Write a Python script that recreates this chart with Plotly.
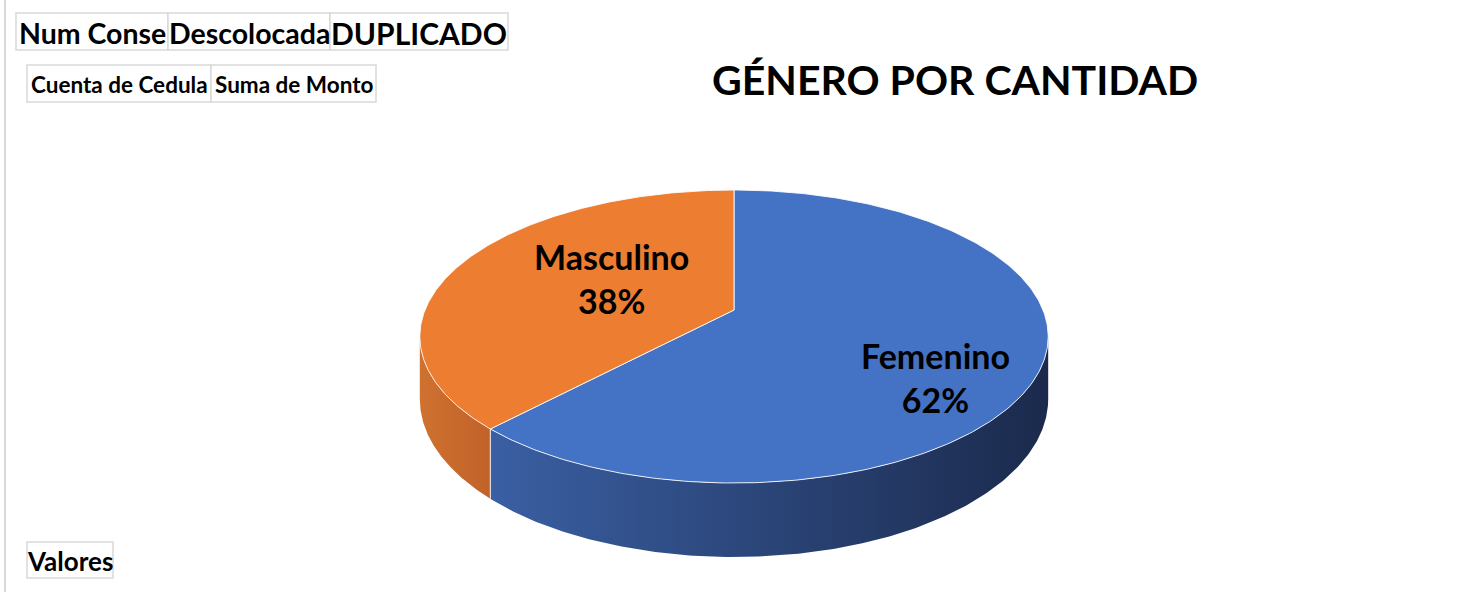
import numpy as np
import plotly.graph_objects as go

# ---------------- data ----------------
categories = ["Femenino", "Masculino"]
values = [62, 38]
title_text = "GÉNERO POR CANTIDAD"
filter_buttons = ["Num Conse", "Descolocada", "DUPLICADO"]
value_buttons = ["Cuenta de Cedula", "Suma de Monto"]
axis_button = "Valores"

# ---------------- style ----------------
top_colors = ["#4472C4", "#ED7D31"]
side_grad = [["#3A5FA3", "#1B2A4C"], ["#CF712F", "#C1622A"]]
FONT = "Lato"
W, H = 1457, 592

# projection of the tilted disc (pixel-like axis units)
CX, CY, A, B, K, D = 734, 310, 309.0, 141.7, 0.181, 60.6


def proj(theta, r=1.0):
    u = r * np.sin(theta)
    v = -r * np.cos(theta)
    w = 1 - K * v
    return CX + A * u / w, CY + B * v / w, w


shares = np.array(values, dtype=float) / sum(values)
cum = np.concatenate([[0.0], np.cumsum(shares)]) * 2 * np.pi
theta_r = np.arccos(-K)
theta_l = 2 * np.pi - theta_r

fig = go.Figure()

# side faces
for i, cat in enumerate(categories):
    a0 = max(cum[i], theta_r)
    a1 = min(cum[i + 1], theta_l)
    if a1 <= a0:
        continue
    t = np.linspace(a0, a1, 200)
    x, y, w = proj(t)
    yb = y + D / w
    xs = np.concatenate([x, x[::-1], x[:1]])
    ys = np.concatenate([y, yb[::-1], y[:1]])
    fig.add_trace(go.Scatter(
        x=xs, y=ys, mode="lines", fill="toself",
        line=dict(width=0, color="rgba(0,0,0,0)"),
        fillgradient=dict(type="horizontal",
                          colorscale=[[0, side_grad[i][0]], [1, side_grad[i][1]]],
                          start=float(x.min()), stop=float(x.max())),
        hoverinfo="skip", showlegend=False))

# seams on the side between slices
for c in cum[1:-1]:
    if theta_r < c < theta_l:
        x, y, w = proj(np.array([c]))
        fig.add_trace(go.Scatter(
            x=[x[0], x[0]], y=[y[0], y[0] + D / w[0]], mode="lines",
            line=dict(color="rgba(255,255,255,0.85)", width=1),
            hoverinfo="skip", showlegend=False))

# top faces
for i, cat in enumerate(categories):
    t = np.linspace(cum[i], cum[i + 1], 300)
    x, y, w = proj(t)
    xs = np.concatenate([[CX], x, [CX]])
    ys = np.concatenate([[CY], y, [CY]])
    fig.add_trace(go.Scatter(
        x=xs, y=ys, mode="lines", fill="toself", fillcolor=top_colors[i],
        line=dict(color="rgba(255,255,255,0.85)", width=1),
        name=cat, hoverinfo="skip", showlegend=False))

# data labels
label_pos = {"Femenino": (935, 377), "Masculino": (611, 278)}
for cat, val in zip(categories, values):
    pct = round(100 * val / sum(values))
    lx, ly = label_pos[cat]
    fig.add_annotation(x=lx, y=ly, xref="x", yref="y",
                       text=f"<b>{cat}<br>{pct}%</b>", showarrow=False,
                       font=dict(family=FONT, size=34, color="black"),
                       align="center")

# title
fig.add_annotation(x=955, y=79, xref="x", yref="y", text=f"<b>{title_text}</b>",
                   showarrow=False, font=dict(family=FONT, size=41, color="black"))

# pivot field buttons
def button(x0, x1, y0, y1, text, size):
    fig.add_shape(type="rect", x0=x0, x1=x1, y0=y0, y1=y1, xref="x", yref="y",
                  line=dict(color="#D9D9D9", width=1.5), fillcolor="white", layer="below")
    fig.add_annotation(x=(x0 + x1) / 2, y=(y0 + y1) / 2 + 1, xref="x", yref="y",
                       text=f"<b>{text}</b>", showarrow=False,
                       font=dict(family=FONT, size=size, color="black"))

row1 = [(16, 168), (168, 330), (330, 508)]
sizes1 = [28.5, 28.5, 30]
for (x0, x1), txt, s in zip(row1, filter_buttons, sizes1):
    button(x0, x1, 13, 50, txt, s)

row2 = [(27, 211), (211, 376)]
for (x0, x1), txt in zip(row2, value_buttons):
    button(x0, x1, 65, 102, txt, 22.5)

button(27, 113, 542, 578, axis_button, 26)

# chart border (left edge)
fig.add_shape(type="line", x0=5, x1=5, y0=0, y1=H, xref="x", yref="y",
              line=dict(color="#D9D9D9", width=2))

fig.update_layout(
    width=W, height=H, margin=dict(l=0, r=0, t=0, b=0),
    paper_bgcolor="white", plot_bgcolor="white",
    xaxis=dict(range=[0, W], visible=False, fixedrange=True),
    yaxis=dict(range=[H, 0], visible=False, fixedrange=True),
    showlegend=False,
)

fig.write_html("out.html", config={"displayModeBar": False},
               post_script="document.body.style.margin='0';")
